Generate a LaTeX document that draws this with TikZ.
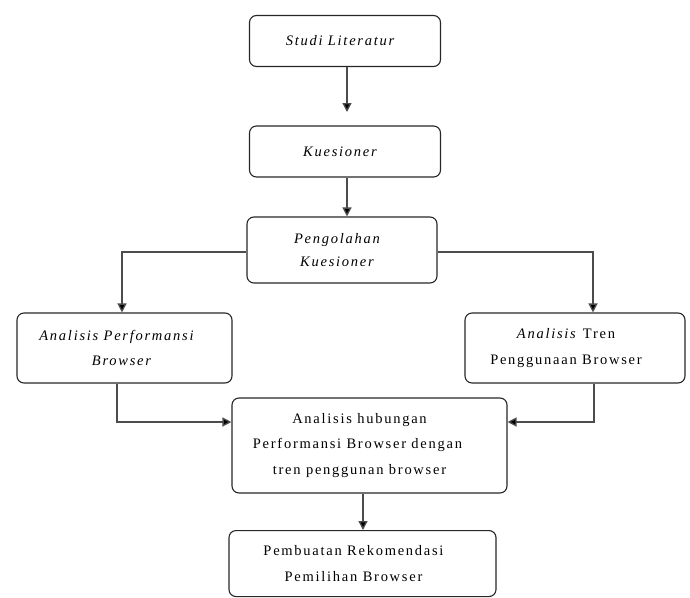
\documentclass[tikz,border=0pt]{standalone}
\usepackage{fontspec}
\setmainfont{Liberation Serif}[LetterSpace=12]
\usetikzlibrary{arrows.meta}
\newcommand{\sh}[1]{\hspace*{#1pt}}
\begin{document}
\begin{tikzpicture}[x=1pt,y=-1pt,
  box/.style={draw=black!85,line width=1.1pt,rounded corners=7pt,align=center,inner sep=0pt,font=\fontsize{14.5}{25.5}\selectfont},
  conn/.style={draw=black!70,line width=1.3pt,-{Triangle[width=9pt,length=9pt,fill=black]}}]
\useasboundingbox (0,0) rectangle (690,597);
\node[box,minimum width=191pt,minimum height=51pt] (b1) at (345,41) {\itshape Studi Literatur\sh{10}};
\node[box,minimum width=191pt,minimum height=51pt] (b2) at (345,151.5) {\itshape Kuesioner\sh{10}};
\node[box,minimum width=190pt,minimum height=66pt,font=\fontsize{14.5}{23.5}\selectfont] (b3) at (342,250) {\itshape Pengolahan\sh{10}\\\itshape Kuesioner\sh{10}};
\node[box,minimum width=215pt,minimum height=70pt] (b4) at (124.5,348) {\itshape Analisis Performansi\sh{16}\\\itshape Browser\sh{6}};
\node[box,minimum width=220pt,minimum height=70pt] (b5) at (575,348) {\textit{Analisis} Tren\sh{18}\\Penggunaan Browser\sh{18}};
\node[box,minimum width=275pt,minimum height=95pt] (b6) at (369.5,445.5) {Analisis hubungan\sh{20}\\\sh{-24}Performansi Browser dengan\sh{20}\\tren penggunan browser\sh{20}};
\node[box,minimum width=267pt,minimum height=66pt,anchor=north] (b7) at (362.5,530) {Pembuatan Rekomendasi\sh{18}\\Pemilihan Browser\sh{18}};
\coordinate (t1) at (347,112);
\draw[conn] (b1.south -| t1) -- (t1);
\draw[conn] (b2.south -| t1) -- (b3.north -| t1);
\coordinate (lj) at (122,252);
\coordinate (rj) at (593,252);
\draw[conn] (b3.west |- lj) -- (lj) -- (b4.north -| lj);
\draw[conn] (b3.east |- rj) -- (rj) -- (b5.north -| rj);
\coordinate (lb) at (117,422);
\coordinate (rb) at (594,422);
\draw[conn] (b4.south -| lb) -- (lb) -- (b6.west |- lb);
\draw[conn] (b5.south -| rb) -- (rb) -- (b6.east |- rb);
\coordinate (mb) at (363,0);
\draw[conn] (b6.south -| mb) -- (b7.north -| mb);
\end{tikzpicture}
\end{document}
